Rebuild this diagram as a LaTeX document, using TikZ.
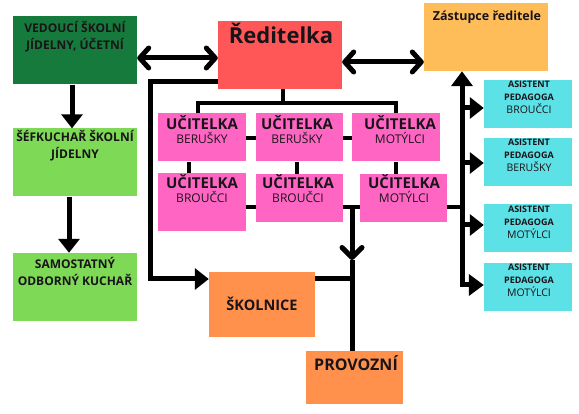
\documentclass[tikz,border=0pt]{standalone}
\usepackage{fontspec}
\setmainfont{Open Sans}
\usetikzlibrary{arrows.meta,positioning}
\definecolor{tmzelena}{RGB}{22,122,60}
\definecolor{svzelena}{RGB}{126,217,87}
\definecolor{cervena}{RGB}{255,87,87}
\definecolor{zluta}{RGB}{255,189,89}
\definecolor{ruzova}{RGB}{255,102,196}
\definecolor{oranzova}{RGB}{255,145,77}
\definecolor{tyrkys}{RGB}{92,225,230}
\definecolor{pismo}{RGB}{25,20,25}
\newcommand{\ucitelka}[1]{{\bfseries\fontsize{15}{15}\selectfont UČITELKA}\\{\fontsize{12}{13}\selectfont #1}}
\newcommand{\asistent}[1]{{\bfseries\fontsize{9}{12}\selectfont ASISTENT}\\{\bfseries\fontsize{9}{12}\selectfont PEDAGOGA}\\{\fontsize{10.5}{13}\selectfont #1}}

\begin{document}
\begin{tikzpicture}[x=1pt,y=-1pt,
  box/.style={inner sep=0pt,minimum width=124pt,minimum height=68pt},
  ucbox/.style={fill=ruzova,inner sep=0pt,minimum width=88pt,minimum height=48pt},
  asbox/.style={fill=tyrkys,inner sep=0pt,minimum width=88pt,minimum height=48pt},
  hlava/.style={inner sep=0pt,align=center,text=pismo,font=\bfseries\fontsize{12}{17}\selectfont},
  uctext/.style={inner sep=0pt,align=center,text=pismo,font=\fontsize{12}{14}\selectfont},
  astext/.style={inner sep=0pt,align=center,text=pismo,font=\fontsize{10.5}{13}\selectfont},
  tenka/.style={line width=4pt},
  spoj/.style={line width=5pt},
  sipka/.style={line width=5pt,-{Triangle[length=14pt,width=21pt]}},
  dvoj/.style={line width=5pt,{Straight Barb[length=9pt,width=20pt,round]}-{Straight Barb[length=9pt,width=20pt,round]}}]
\useasboundingbox (0,0) rectangle (579,414);

% boxes
\node[box,fill=tmzelena] (ved) at (75,50.5) {};
\node[box,fill=svzelena] (sef) at (75,162.5) {};
\node[box,fill=svzelena] (sam) at (75,287) {};
\node[box,fill=cervena] (red) at (280,55) {};
\node[box,fill=zluta] (zas) at (486,37) {};
\node[ucbox] (uA) at (202,137.5) {};
\node[ucbox,minimum width=87pt] (uB) at (299.5,137.5) {};
\node[ucbox] (uC) at (396,137.5) {};
\node[ucbox,minimum height=58pt] (uD) at (202,202) {};
\node[ucbox,minimum width=87pt] (uE) at (299.5,198) {};
\node[ucbox,minimum width=87pt] (uF) at (403.5,198) {};
\node[box,fill=oranzova,minimum width=106pt,minimum height=65pt] (skol) at (262,304.5) {};
\node[box,fill=oranzova,minimum width=97pt,minimum height=53pt] (prov) at (354.5,377.5) {};
\node[asbox] (as1) at (528,104) {};
\node[asbox] (as2) at (528,162) {};
\node[asbox] (as3) at (528,228) {};
\node[asbox] (as4) at (528,287) {};

% texts
\node[hlava] (vedT) at (75,37) {VEDOUCÍ ŠKOLNÍ\\JÍDELNY, ÚČETNÍ};
\node[hlava] (sefT) at (75,146) {ŠÉFKUCHAŘ ŠKOLNÍ\\JÍDELNY};
\node[hlava] (samT) at (75,271) {SAMOSTATNÝ\\ODBORNÝ KUCHAŘ};
\node[hlava,font=\bfseries\fontsize{22}{24}\selectfont] (redT) at (281,33) {Ředitelka};
\node[hlava,font=\bfseries\fontsize{12.5}{15}\selectfont] (zasT) at (487,17) {Zástupce ředitele};
\node[uctext] (uAT) at (202,129.5) {\ucitelka{BERUŠKY}};
\node[uctext] (uBT) at (297,129.5) {\ucitelka{BERUŠKY}};
\node[uctext] (uCT) at (400,129.5) {\ucitelka{MOTÝLCI}};
\node[uctext] (uDT) at (202,188.5) {\ucitelka{BROUČCI}};
\node[uctext] (uET) at (298,188.5) {\ucitelka{BROUČCI}};
\node[uctext] (uFT) at (404,188.5) {\ucitelka{MOTÝLCI}};
\node[hlava,font=\bfseries\fontsize{14.5}{15}\selectfont] (skolT) at (262,304) {ŠKOLNICE};
\node[hlava,font=\bfseries\fontsize{16}{18}\selectfont] (provT) at (356,363) {PROVOZNÍ};
\node[astext] (as1T) at (529,97) {\asistent{BROUČCI}};
\node[astext] (as2T) at (529,155) {\asistent{BERUŠKY}};
\node[astext] (as3T) at (529,222) {\asistent{MOTÝLCI}};
\node[astext] (as4T) at (529,280) {\asistent{MOTÝLCI}};

% points of the lines
\coordinate (r1) at (283,103);
\coordinate (j1) at (352,207);
\coordinate (j2) at (462,207);
\coordinate (ch) at (352,260);
\coordinate (l1) at (150,82);
\coordinate (l2) at (150,279);
\coordinate (r0) at (462,285);

% kitchen
\draw[dvoj] (ved.east |- 0,58) -- (red.west |- 0,58);
\draw[sipka] ([xshift=-3pt]ved.south) -- ([xshift=-3pt]sef.north);
\draw[sipka] ([xshift=-6pt]sef.south) -- ([xshift=-6pt]sam.north);
\draw[dvoj] (red.east |- 0,62) -- (zas.west |- 0,62);

% teachers
\draw[tenka] ([xshift=3pt]red.south) -- (r1);
\draw[tenka] ([xshift=-4pt]uA.north) |- (uC.north |- r1) -- (uC.north);
\draw[tenka] (uA.east |- 0,138) -- (uB.west |- 0,138);
\draw[tenka] (uB.east |- 0,138) -- (uC.west |- 0,138);
\draw[tenka] ([xshift=-13pt]uA.south) -- ([xshift=-13pt]uD.north);
\draw[tenka] ([xshift=-2.5pt]uB.south) -- ([xshift=-2.5pt]uE.north);
\draw[tenka] (uC.south) -- (uC.south |- uF.north);
\draw[tenka] (uD.east |- j1) -- (uE.west |- j1);
\draw[tenka] (uE.east |- j1) -- (uF.west |- j1);
\draw[tenka] (uF.east |- j2) -- (j2);

% staff
\draw[spoj,-{Straight Barb[length=10pt,width=20pt,round]}] (j1) -- (ch);
\draw[spoj] (ch) -- (j1 |- prov.north);
\draw[spoj] (skol.east |- l2) -- (j1 |- l2);
\draw[sipka] (red.west |- l1) -- (l1) -- (l2) -- (skol.west |- l2);

% assistants
\draw[line width=5pt,{Triangle[length=15pt,width=21pt]}-{Triangle[length=15pt,width=21pt]}] (zas.south -| r0) -- (r0) -- (as4.west |- r0);
\foreach \a/\y in {as1/108,as2/163,as3/225}
  \draw[sipka] (462,\y) -- (\a.west |- 0,\y);
\end{tikzpicture}
\end{document}
